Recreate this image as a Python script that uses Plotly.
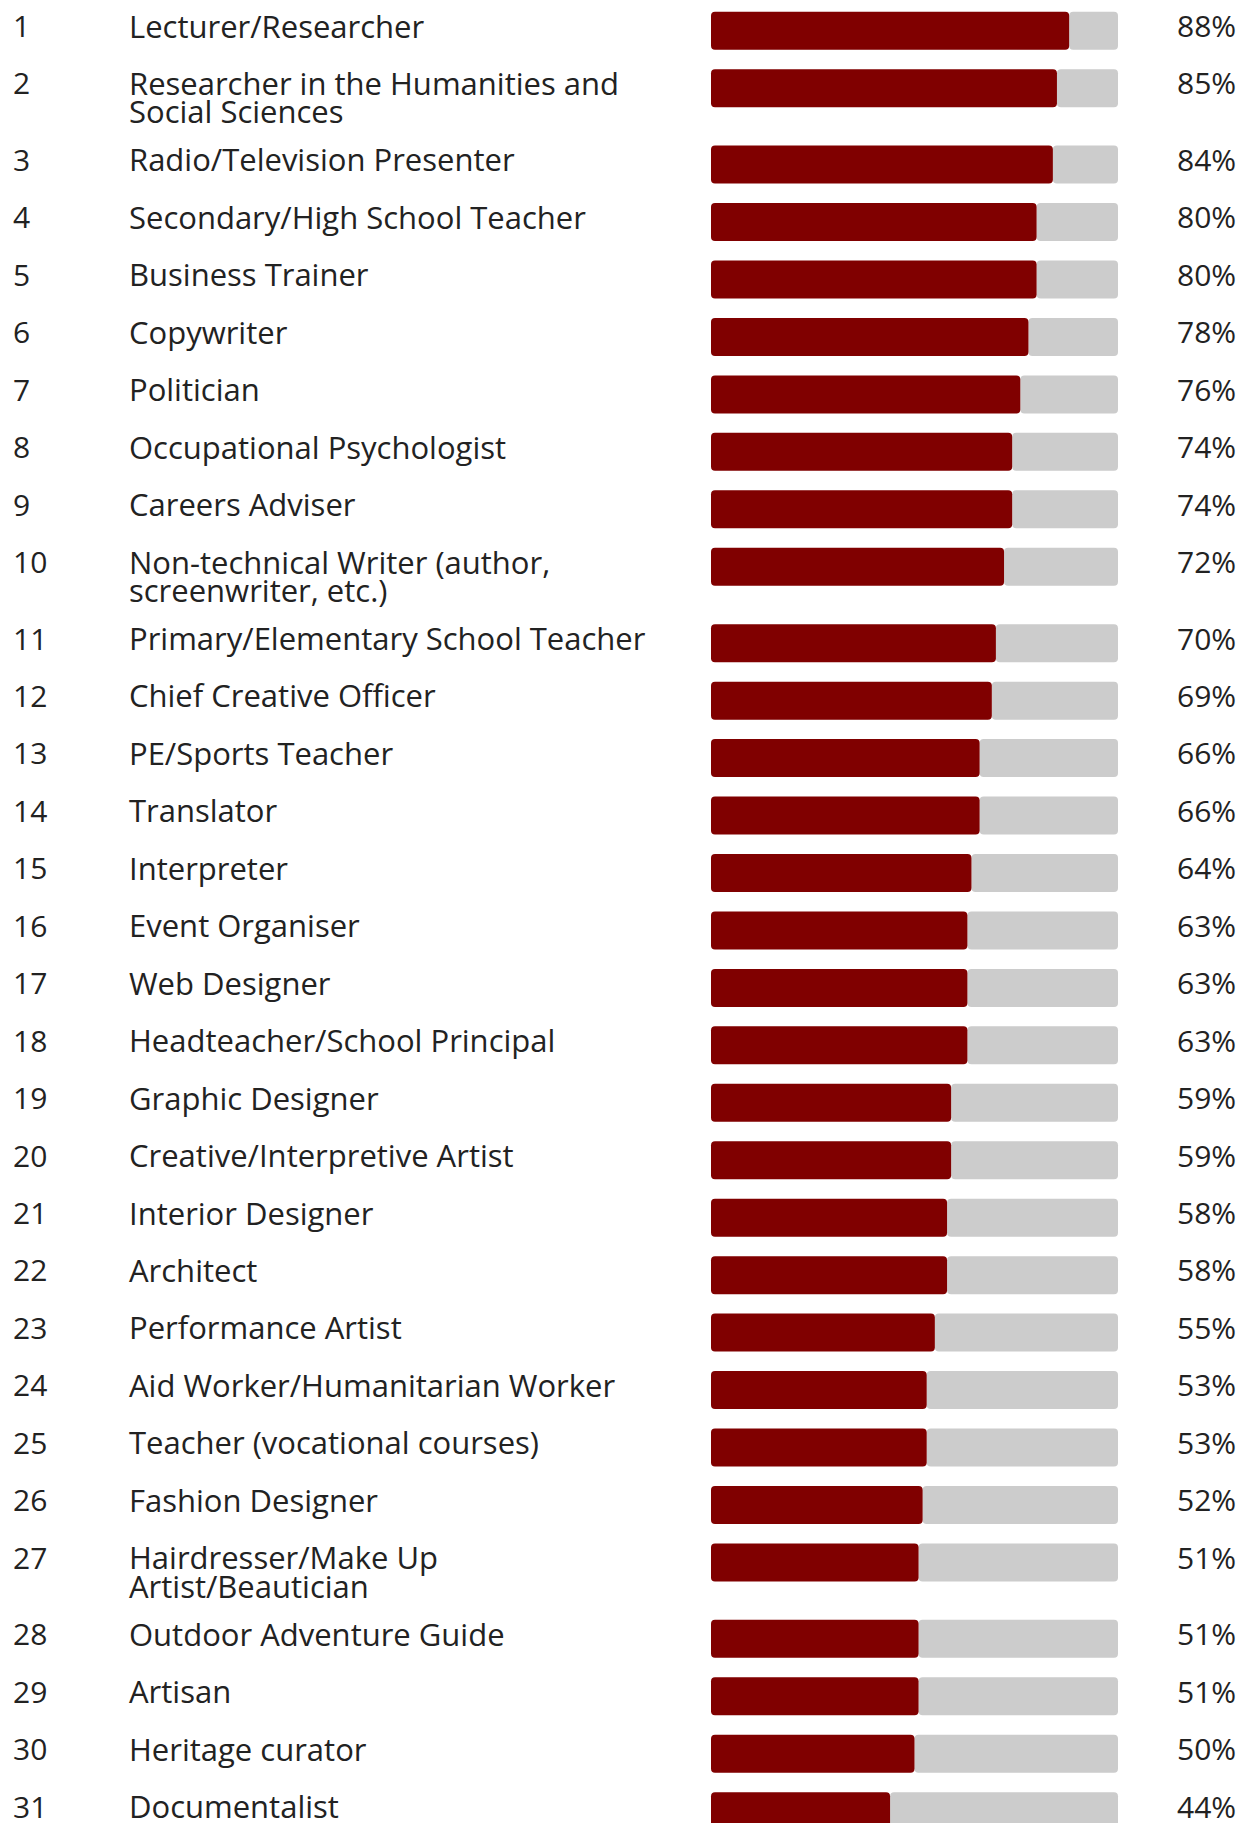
import textwrap
import plotly.graph_objects as go

# Ranked occupations and their scores (%)
ranks = list(range(1, 32))
occupations = [
    "Lecturer/Researcher",
    "Researcher in the Humanities and Social Sciences",
    "Radio/Television Presenter",
    "Secondary/High School Teacher",
    "Business Trainer",
    "Copywriter",
    "Politician",
    "Occupational Psychologist",
    "Careers Adviser",
    "Non-technical Writer (author, screenwriter, etc.)",
    "Primary/Elementary School Teacher",
    "Chief Creative Officer",
    "PE/Sports Teacher",
    "Translator",
    "Interpreter",
    "Event Organiser",
    "Web Designer",
    "Headteacher/School Principal",
    "Graphic Designer",
    "Creative/Interpretive Artist",
    "Interior Designer",
    "Architect",
    "Performance Artist",
    "Aid Worker/Humanitarian Worker",
    "Teacher (vocational courses)",
    "Fashion Designer",
    "Hairdresser/Make Up Artist/Beautician",
    "Outdoor Adventure Guide",
    "Artisan",
    "Heritage curator",
    "Documentalist",
]
scores = [88, 85, 84, 80, 80, 78, 76, 74, 74, 72, 70, 69, 66, 66, 64, 63, 63, 63,
          59, 59, 58, 58, 55, 53, 53, 52, 51, 51, 51, 50, 44]

# Page geometry (pixels)
W, H = 1243, 1823
BAR_H = 38          # bar thickness
LINE_H = 28.5       # label line height
ROW_GAP = 19.45     # space between rows
TOP = 11.7          # top of first row
X_ZERO, X_FULL = 711, 1118   # pixel positions of 0% and 100%
NUM_X, LABEL_X, PCT_X = 11, 127, 1175
FONT = "Open Sans"
LABEL_SIZE = 31
NUM_SIZE = 30
TEXT_COLOR = "#222222"
RED = "#800000"
GREY = "#cccccc"

# Wrap long labels into the label column
wrapped = [textwrap.wrap(t, width=33, break_on_hyphens=False, break_long_words=False)
           for t in occupations]

# Row tops: each row is as tall as its bar or its label text, whichever is larger
row_tops = []
y = TOP
for lines in wrapped:
    row_tops.append(y)
    y += max(BAR_H, LINE_H * len(lines)) + ROW_GAP
bar_centers = [t + BAR_H / 2 for t in row_tops]

units_per_px = 100 / (X_FULL - X_ZERO)
x_range = [-X_ZERO * units_per_px, (W - X_ZERO) * units_per_px]

fig = go.Figure()

# Remaining part of each track, rounded at the right end
fig.add_trace(go.Bar(
    orientation="h",
    y=bar_centers,
    base=scores,
    x=[100 - v for v in scores],
    width=BAR_H,
    marker=dict(color=GREY, line=dict(width=0), cornerradius=4),
    hoverinfo="skip",
))
# Score bar, drawn from the score back to 0 so the rounded end sits on the left
fig.add_trace(go.Bar(
    orientation="h",
    y=bar_centers,
    base=scores,
    x=[-v for v in scores],
    width=BAR_H,
    marker=dict(color=RED, line=dict(width=0), cornerradius=4),
    hoverinfo="skip",
))

annotations = []
TEXT_DY = 13.8  # from row top to the middle of the first text line
for rank, lines, v, top in zip(ranks, wrapped, scores, row_tops):
    base = dict(xref="paper", yref="y", xanchor="left", yanchor="middle", showarrow=False)
    num_font = dict(family=FONT, size=NUM_SIZE, color=TEXT_COLOR)
    label_font = dict(family=FONT, size=LABEL_SIZE, color=TEXT_COLOR)
    annotations.append(dict(base, x=NUM_X / W, y=top + TEXT_DY, text=str(rank), font=num_font))
    for k, line in enumerate(lines):
        annotations.append(dict(base, x=LABEL_X / W, y=top + TEXT_DY + k * LINE_H,
                                text=line, font=label_font))
    annotations.append(dict(base, x=PCT_X / W, y=top + TEXT_DY, text=f"{v}%", font=num_font))

fig.update_layout(
    width=W,
    height=H,
    margin=dict(l=0, r=0, t=0, b=0),
    paper_bgcolor="white",
    plot_bgcolor="white",
    barmode="overlay",
    showlegend=False,
    xaxis=dict(range=x_range, visible=False, fixedrange=True),
    yaxis=dict(range=[H, 0], visible=False, fixedrange=True),
    annotations=annotations,
    font=dict(family=FONT),
)

fig.write_html("out.html", config={"displayModeBar": False})
